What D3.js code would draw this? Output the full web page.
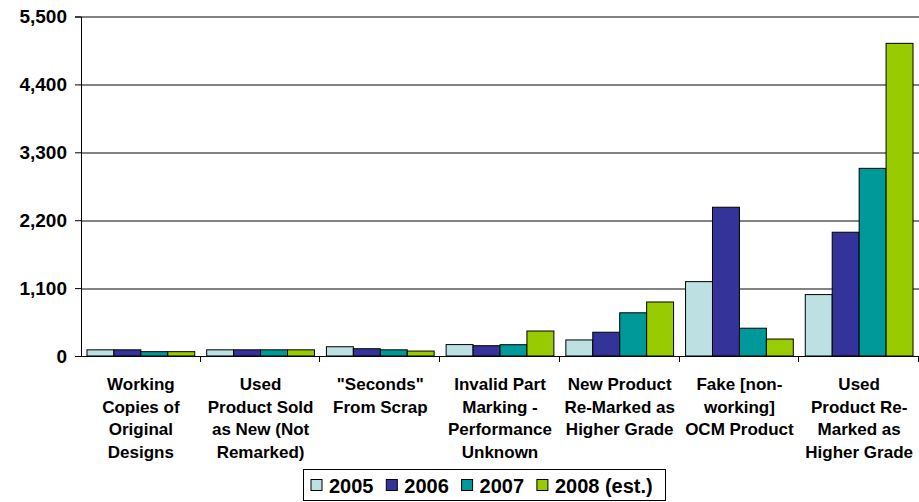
<!DOCTYPE html>
<html>
<head>
<meta charset="utf-8">
<script src="https://cdn.jsdelivr.net/npm/d3@7"></script>
<style>
  body { margin: 0; background: #fff; }
  text { font-family: "Liberation Sans", Arial, sans-serif; font-weight: bold; fill: #000; }
</style>
</head>
<body>
<svg id="chart" width="919" height="502"></svg>
<script>
// Categories (multi-line labels)
const categories = [
  ["Working", "Copies of", "Original", "Designs"],
  ["Used", "Product Sold", "as New (Not", "Remarked)"],
  ["\"Seconds\"", "From Scrap"],
  ["Invalid Part", "Marking -", "Performance", "Unknown"],
  ["New Product", "Re-Marked as", "Higher Grade"],
  ["Fake [non-", "working]", "OCM Product"],
  ["Used", "Product Re-", "Marked as", "Higher Grade"]
];
const years = ["2005", "2006", "2007", "2008 (est.)"];
const colors = ["#BDE0E3", "#333399", "#009999", "#99CC00"];

// values per year, one entry per category
const v2005 = [100, 100, 150, 185, 260, 1205, 995];
const v2006 = [100, 100, 118, 167, 385, 2410, 2005];
const v2007 = [70, 100, 100, 183, 700, 450, 3040];
const v2008 = [70, 100, 80, 405, 875, 275, 5065];
const series = [v2005, v2006, v2007, v2008];

const yTicks = [0, 1100, 2200, 3300, 4400, 5500];

// Layout
const margin = { top: 16.5, right: 0, bottom: 146, left: 81 };
const width = 919 - margin.left - margin.right;
const height = 502 - margin.top - margin.bottom;

const svg = d3.select("#chart");
const g = svg.append("g")
  .attr("transform", `translate(${ margin.left }, ${ margin.top })`);

// Scales
const x0 = d3.scaleBand()
  .domain(d3.range(categories.length))
  .range([0, width])
  .paddingInner(0.1)
  .paddingOuter(0.05);

const x1 = d3.scaleBand()
  .domain(d3.range(years.length))
  .range([0, x0.bandwidth()]);

const y = d3.scaleLinear()
  .domain([0, 5500])
  .range([height, 0]);

// Gridlines
g.append("g")
  .selectAll("line")
  .data(yTicks.filter(d => d > 0))
  .enter()
  .append("line")
  .attr("x1", 0)
  .attr("x2", width)
  .attr("y1", d => Math.round(y(d)) + 0.5)
  .attr("y2", d => Math.round(y(d)) + 0.5)
  .attr("stroke", "#5a5a5a")
  .attr("stroke-width", 1.3);

// Y axis
const yAxis = g.append("g")
  .call(d3.axisLeft(y).tickValues(yTicks).tickSize(6).tickPadding(8)
    .tickFormat(d3.format(",")));
yAxis.select(".domain").attr("stroke", "#000");
yAxis.selectAll(".tick line").attr("stroke", "#000");
yAxis.selectAll("text")
  .attr("font-size", "19px")
  .attr("font-family", "Liberation Sans, Arial, sans-serif")
  .attr("font-weight", "bold")
  .attr("fill", "#000");

// Bars
const groups = g.selectAll(".cat")
  .data(categories.map((c, i) => i))
  .enter()
  .append("g")
  .attr("transform", i => `translate(${ x0(i) }, 0)`);

groups.selectAll("rect")
  .data(i => series.map((s, k) => ({ k: k, v: s[i] })))
  .enter()
  .append("rect")
  .attr("x", d => x1(d.k))
  .attr("y", d => y(d.v))
  .attr("width", x1.bandwidth())
  .attr("height", d => height - y(d.v))
  .attr("fill", d => colors[d.k])
  .attr("stroke", "#000")
  .attr("stroke-width", 1);

// X axis line and ticks at category boundaries
const step = x0.step();
g.append("line")
  .attr("x1", 0).attr("x2", width)
  .attr("y1", height + 0.5).attr("y2", height + 0.5)
  .attr("stroke", "#000");
g.selectAll(".xtick")
  .data(d3.range(1, categories.length + 1))
  .enter()
  .append("line")
  .attr("x1", i => Math.round(i * step) - 0.5)
  .attr("x2", i => Math.round(i * step) - 0.5)
  .attr("y1", height)
  .attr("y2", height + 6)
  .attr("stroke", "#000");

// Category labels
const labels = g.selectAll(".xlabel")
  .data(categories)
  .enter()
  .append("text")
  .attr("text-anchor", "middle")
  .attr("font-size", "17px")
  .attr("transform", (d, i) => `translate(${ x0(i) + x0.bandwidth() / 2 }, ${ height + 34 })`);
labels.selectAll("tspan")
  .data(d => d)
  .enter()
  .append("tspan")
  .attr("x", 0)
  .attr("y", (d, j) => j * 22.5)
  .text(d => d);

// Legend
const legend = svg.append("g").attr("transform", "translate(303.5, 469.5)");
legend.append("rect")
  .attr("width", 362)
  .attr("height", 31)
  .attr("fill", "#fff")
  .attr("stroke", "#000")
  .attr("stroke-width", 1);

const items = legend.selectAll(".item")
  .data(years)
  .enter()
  .append("g")
  .attr("transform", (d, i) => `translate(${ 7.5 + i * 75.3 }, 0)`);
items.append("rect")
  .attr("x", 0)
  .attr("y", 10)
  .attr("width", 11)
  .attr("height", 11)
  .attr("fill", (d, i) => colors[i])
  .attr("stroke", "#000");
items.append("text")
  .attr("x", 18)
  .attr("y", 23.5)
  .attr("font-size", "20px")
  .text(d => d);
</script>
</body>
</html>
